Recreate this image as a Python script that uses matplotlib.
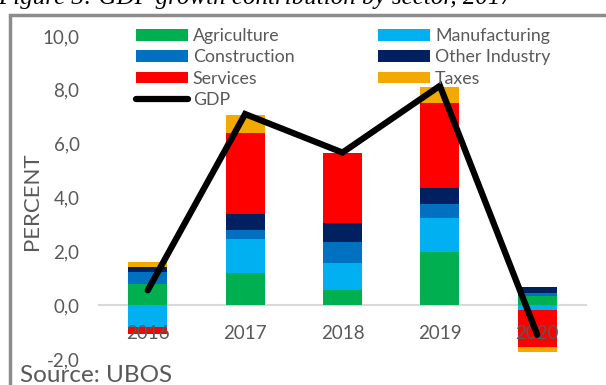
import numpy as np
import matplotlib
matplotlib.use("Agg")
import matplotlib.pyplot as plt
from matplotlib.patches import Patch, Rectangle
from matplotlib.lines import Line2D

plt.rcParams['font.family'] = ['Lato', 'DejaVu Sans']

years = ['2016', '2017', '2018', '2019', '2020']
agriculture = [0.78, 1.20, 0.56, 1.97, 0.34]
manufacturing = [-0.80, 1.25, 1.01, 1.27, -0.17]
construction = [0.47, 0.33, 0.77, 0.52, 0.10]
other_industry = [0.15, 0.62, 0.70, 0.59, 0.22]
services = [-0.26, 2.99, 2.63, 3.17, -1.37]
taxes = [0.22, 0.67, 0.0, 0.58, -0.21]
gdp = [0.55, 7.10, 5.67, 8.15, -1.10]

series = [
    ('Agriculture', agriculture, '#00B050'),
    ('Manufacturing', manufacturing, '#00B0F0'),
    ('Construction', construction, '#0070C0'),
    ('Other Industry', other_industry, '#002060'),
    ('Services', services, '#FF0000'),
    ('Taxes', taxes, '#F2AA00'),
]

W, H = 606, 385
fig = plt.figure(figsize=(W / 100, H / 100), dpi=100)
ax = fig.add_axes([99 / W, (H - 359) / H, (586 - 99) / W, (359 - 36) / H])

x = np.arange(len(years))
pos_base = np.zeros(len(years))
neg_base = np.zeros(len(years))
for name, vals, col in series:
    v = np.array(vals)
    base = np.where(v >= 0, pos_base, neg_base)
    ax.bar(x, v, width=0.4, bottom=base, color=col, edgecolor='none', zorder=2)
    pos_base += np.where(v >= 0, v, 0)
    neg_base += np.where(v < 0, v, 0)

ax.plot(x, gdp, color='black', lw=4.5, solid_capstyle='round',
        solid_joinstyle='miter', zorder=4)

ax.set_xlim(-0.5, 4.5)
ax.set_ylim(-2, 10)
ax.set_yticks(np.arange(-2, 10.1, 2))
ax.set_yticklabels([f'{v:.1f}'.replace('.', ',') for v in np.arange(-2, 10.1, 2)])
ax.set_xticks(x)
ax.set_xticklabels(years)
ax.set_axisbelow(False)
for s in ['top', 'right', 'left']:
    ax.spines[s].set_visible(False)
ax.spines['bottom'].set_position(('data', 0))
ax.spines['bottom'].set_color('#D9D9D9')
ax.spines['bottom'].set_linewidth(1.5)
ax.spines['bottom'].set_zorder(1)
ax.tick_params(axis='both', length=0, labelsize=13.5, labelcolor='#595959')
ax.tick_params(axis='y', pad=14)
ax.tick_params(axis='x', pad=14)
ax.set_ylabel('PERCENT', fontsize=16, color='#595959')
ax.yaxis.set_label_coords(-0.118, 0.49)

# legend, filled row-wise like the original
h = {name: Patch(facecolor=col) for name, _, col in series}
gdp_h = Line2D([], [], color='black', lw=4.5, solid_capstyle='round')
handles = [h['Agriculture'], h['Construction'], h['Services'], gdp_h,
           h['Manufacturing'], h['Other Industry'], h['Taxes']]
labels = ['Agriculture', 'Construction', 'Services', 'GDP',
          'Manufacturing', 'Other Industry', 'Taxes']
leg = fig.legend(handles, labels, ncol=2, loc='upper left',
                 bbox_to_anchor=(136 / W, 1 - 28 / H), frameon=False,
                 fontsize=12.8, handlelength=2.9, handleheight=0.62,
                 handletextpad=0.3, labelspacing=0.3, columnspacing=4.7,
                 borderaxespad=0, borderpad=0)
for t in leg.get_texts():
    t.set_color('#595959')

# outer frame and cut-off caption
fig.patches.append(Rectangle((9.5 / W, -0.1), 1.2, 1 - 14.5 / H + 0.1,
                             transform=fig.transFigure, fill=False,
                             edgecolor='#8C8C8C', lw=2.5))
fig.text(-2 / W, 1 - 4 / H, 'Figure 3: GDP growth contribution by sector, 2017',
         family='Liberation Serif', style='italic', fontsize=18,
         va='baseline', ha='left')
fig.text(20 / W, 3 / H, 'Source: UBOS', fontsize=17.5, color='#595959',
         va='baseline', ha='left')

fig.savefig('out.png', dpi=100)
